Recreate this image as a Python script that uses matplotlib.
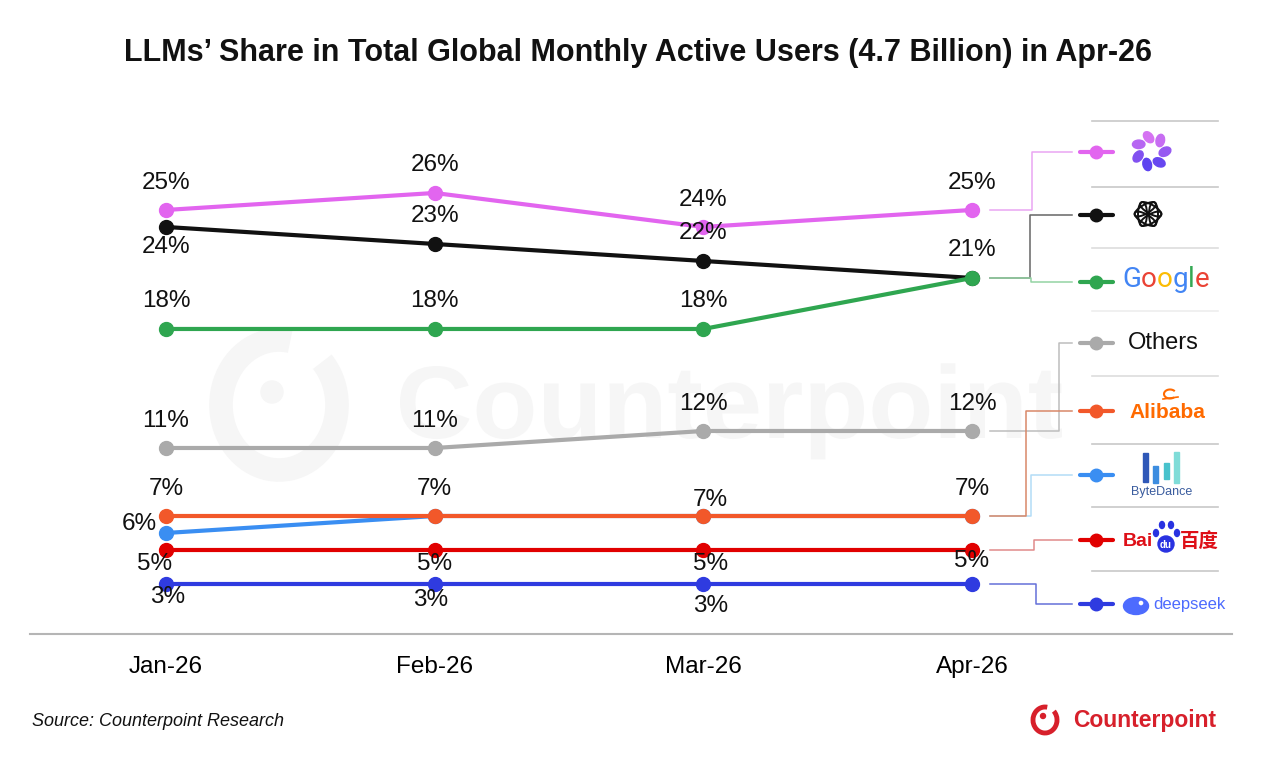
import numpy as np
import matplotlib
matplotlib.use('Agg')
import matplotlib.pyplot as plt
from matplotlib.patches import Ellipse, Arc, Circle, Rectangle, PathPatch
from matplotlib.textpath import TextPath
from matplotlib.font_manager import FontProperties
from matplotlib.transforms import Affine2D

plt.rcParams['font.family'] = ['Liberation Sans', 'Noto Sans CJK SC', 'DejaVu Sans']

# ---- data (share of global MAU, %) ----
months = ['Jan-26', 'Feb-26', 'Mar-26', 'Apr-26']
purple_app = [25, 26, 24, 25]
chatgpt = [24, 23, 22, 21]
google = [18, 18, 18, 21]
others = [11, 11, 12, 12]
alibaba = [7, 7, 7, 7]
bytedance = [6, 7, 7, 7]
baidu = [5, 5, 5, 5]
deepseek = [3, 3, 3, 3]

W, H = 1277, 766
fig = plt.figure(figsize=(W / 100, H / 100), dpi=100)

# main plotting axes, placed in pixels
ax = fig.add_axes([30 / W, 1 - 634 / H, (1232 - 30) / W, (634 - 110) / H])
ax.set_xlim(-0.5062, 3.9677)
ax.set_ylim(0.059, 30.88)
ax.set_zorder(1)
ax.patch.set_alpha(0)

# overlay for decorations in pixel coords (y down)
deco = fig.add_axes([0, 0, 1, 1])
deco.set_zorder(0)
deco.set_xlim(0, W)
deco.set_ylim(H, 0)
deco.axis('off')

# series: values, colour, connector colour, legend row y, elbow x, label offsets (px, y down)
series = [
    (purple_app, '#e265ef', '#eaa6f2', 152, 1032, [(0, -27), (0, -28), (0, -27), (0, -27)]),
    (chatgpt, '#111111', '#666666', 215, 1030, [(0, 20), (0, -28), (0, -28), (0, -28)]),
    (google, '#2fa650', '#93d3a3', 282, 1031, [(0, -28), (0, -28), (0, -28), None]),
    (others, '#aaaaaa', '#bdbdbd', 343, 1059, [(0, -27), (0, -27), (0, -27), (0, -27)]),
    (bytedance, '#3a8ef2', '#b3dcf7', 475, 1031, [(-27, -9), None, None, None]),
    (alibaba, '#f2582a', '#d98868', 411, 1026, [(0, -27), (0, -27), (7, -16), (0, -27)]),
    (baidu, '#e10000', '#e08a8a', 540, 1034, [(-11, 14), (0, 14), (7, 14), (0, 11)]),
    (deepseek, '#2f3be0', '#6570d8', 604, 1036, [(2, 13), (-4, 16), (7, 22), None]),
]

x = np.arange(len(months))


def to_px(xv, yv):
    disp = ax.transData.transform((xv, yv))
    return deco.transData.inverted().transform(disp)


for vals, col, ccol, ly, ex, offs in series:
    ax.plot(x, vals, '-o', color=col, lw=3, ms=10, solid_capstyle='round')
    for xi, v, off in zip(x, vals, offs):
        if off is None:
            continue
        ax.annotate('{}%'.format(v), (xi, v), xytext=(off[0], -off[1]),
                    textcoords='offset pixels', ha='center', va='center',
                    fontsize=17.5, color='#111111', zorder=5)
    # connector to legend row
    px, py = to_px(x[-1], vals[-1])
    deco.plot([px + 18, ex, ex, 1072], [py, py, ly, ly], color=ccol, lw=1.1)
    # legend marker
    deco.plot([1080, 1113], [ly, ly], color=col, lw=3, solid_capstyle='round')
    deco.plot([1096], [ly], 'o', color=col, ms=9)

ax.set_xticks(x)
ax.set_xticklabels(months, fontsize=17.5)
ax.tick_params(axis='x', length=0, pad=16)
ax.set_yticks([])
for s in ['top', 'right', 'left']:
    ax.spines[s].set_visible(False)
ax.spines['bottom'].set_color('#b5b5b5')
ax.spines['bottom'].set_linewidth(1.5)

# legend separators
for sy, sc in zip([121, 187, 248, 311, 376, 444, 507, 571],
                  ['#c8c8c8', '#c8c8c8', '#dddddd', '#eeeeee', '#dddddd', '#c8c8c8', '#c8c8c8', '#c8c8c8']):
    deco.plot([1092, 1218], [sy, sy], color=sc, lw=1.2)

# --- legend icons ---
# petal ring
pc = (1151, 151)
for k in range(7):
    a = np.deg2rad(-100 + k * 360 / 7)
    cx, cy = pc[0] + 14 * np.cos(a), pc[1] + 14 * np.sin(a)
    t = (cy - (pc[1] - 14)) / 28
    c1, c2 = np.array([0.84, 0.45, 0.95]), np.array([0.36, 0.26, 0.94])
    deco.add_patch(Ellipse((cx, cy), 8.5, 12.5, angle=np.rad2deg(a) + 60, color=c1 * (1 - t) + c2 * t))

# openai knot
oc = (1148, 214)
for k in range(6):
    a = np.deg2rad(k * 60)
    deco.add_patch(Ellipse((oc[0] + 5.5 * np.cos(a), oc[1] + 5.5 * np.sin(a)), 9, 24,
                           angle=k * 60, fill=False, ec='#111111', lw=1.4))

# Google word mark
g_cols = ['#4285F4', '#EA4335', '#FBBC05', '#4285F4', '#34A853', '#EA4335']
prev = deco.text(1122, 287, 'G', color=g_cols[0], fontsize=20, family='Roboto', va='baseline', ha='left')
for ch, gc in zip('oogle', g_cols[1:]):
    prev = deco.annotate(ch, xy=(1, 0), xycoords=prev, color=gc, fontsize=20, family='Roboto',
                         va='bottom', ha='left')

deco.text(1163, 343, 'Others', fontsize=17, ha='center', va='center', color='#111111')

# Alibaba
deco.text(1167, 413, 'Alibaba', fontsize=15, fontweight='bold', color='#ff6a00', ha='center', va='center')
deco.add_patch(Arc((1170, 394), 12, 9, theta1=40, theta2=330, color='#ff6a00', lw=1.5))
deco.plot([1163, 1178], [399, 397], color='#ff6a00', lw=1.2)

# ByteDance
for bx, btop, bbot, bc in [(1143, 453, 482, '#2f58b8'), (1153, 466, 483, '#3d8de0'),
                           (1164, 463, 479, '#48c2cc'), (1174, 452, 483, '#7fdcd8')]:
    deco.add_patch(Rectangle((bx, btop), 5, bbot - btop, color=bc))
deco.text(1162, 492, 'ByteDance', fontsize=9, color='#3a5c9e', ha='center', va='center')

# Baidu
deco.text(1123, 541, 'Bai', fontsize=14, fontweight='bold', color='#de0f17', ha='left', va='center')
deco.add_patch(Circle((1166, 544), 8, color='#2932e1'))
for tx, ty in [(1156, 533), (1162, 525), (1171, 525), (1177, 533)]:
    deco.add_patch(Ellipse((tx, ty), 5, 7, color='#2932e1'))
deco.text(1166, 545, 'du', fontsize=7, fontweight='bold', color='white', ha='center', va='center')
deco.text(1180, 541, '百度', fontsize=14, fontweight='bold', color='#de0f17', ha='left', va='center',
          family=['Noto Sans CJK SC', 'DejaVu Sans'])

# deepseek
deco.add_patch(Ellipse((1136, 606), 25, 17, color='#4d6bfe'))
deco.add_patch(Circle((1141, 603), 1.6, color='white'))
deco.text(1153, 604, 'deepseek', fontsize=12, color='#4d6bfe', ha='left', va='center')

# --- watermark ---
wm = '#f6f6f6'
deco.add_patch(Arc((279, 405), 116, 130, theta1=315, theta2=280, color=wm, lw=17))
deco.add_patch(Circle((272, 392), 11, color=wm))
fp = FontProperties(family='Liberation Sans', weight='bold')
tp = TextPath((0, 0), 'Counterpoint', size=100, prop=fp)
cap = TextPath((0, 0), 'C', size=100, prop=fp).get_extents()
ext = tp.get_extents()
sx = 662 / ext.width
sy = 73 / cap.height
tr = Affine2D().translate(-ext.x0, 0).scale(sx, -sy).translate(400, 438)
deco.add_patch(PathPatch(tr.transform_path(tp), color=wm, lw=0))

# --- title, source, logo ---
fig.text(638 / W, 1 - 53 / H, 'LLMs\u2019 Share in Total Global Monthly Active Users (4.7 Billion) in Apr-26',
         fontsize=22, fontweight='bold', ha='center', va='center', color='#111111')
fig.text(32 / W, 1 - 721 / H, 'Source: Counterpoint Research', fontsize=13, style='italic',
         ha='left', va='center', color='#111111')
red = '#d7202b'
deco.add_patch(Arc((1045, 720), 24, 26, theta1=315, theta2=280, color=red, lw=3.5))
deco.add_patch(Circle((1043, 716), 2.5, color=red))
deco.text(1073, 720, 'Counterpoint', fontsize=16.5, fontweight='bold', color=red, ha='left', va='center')

fig.savefig('out.png', dpi=100)
